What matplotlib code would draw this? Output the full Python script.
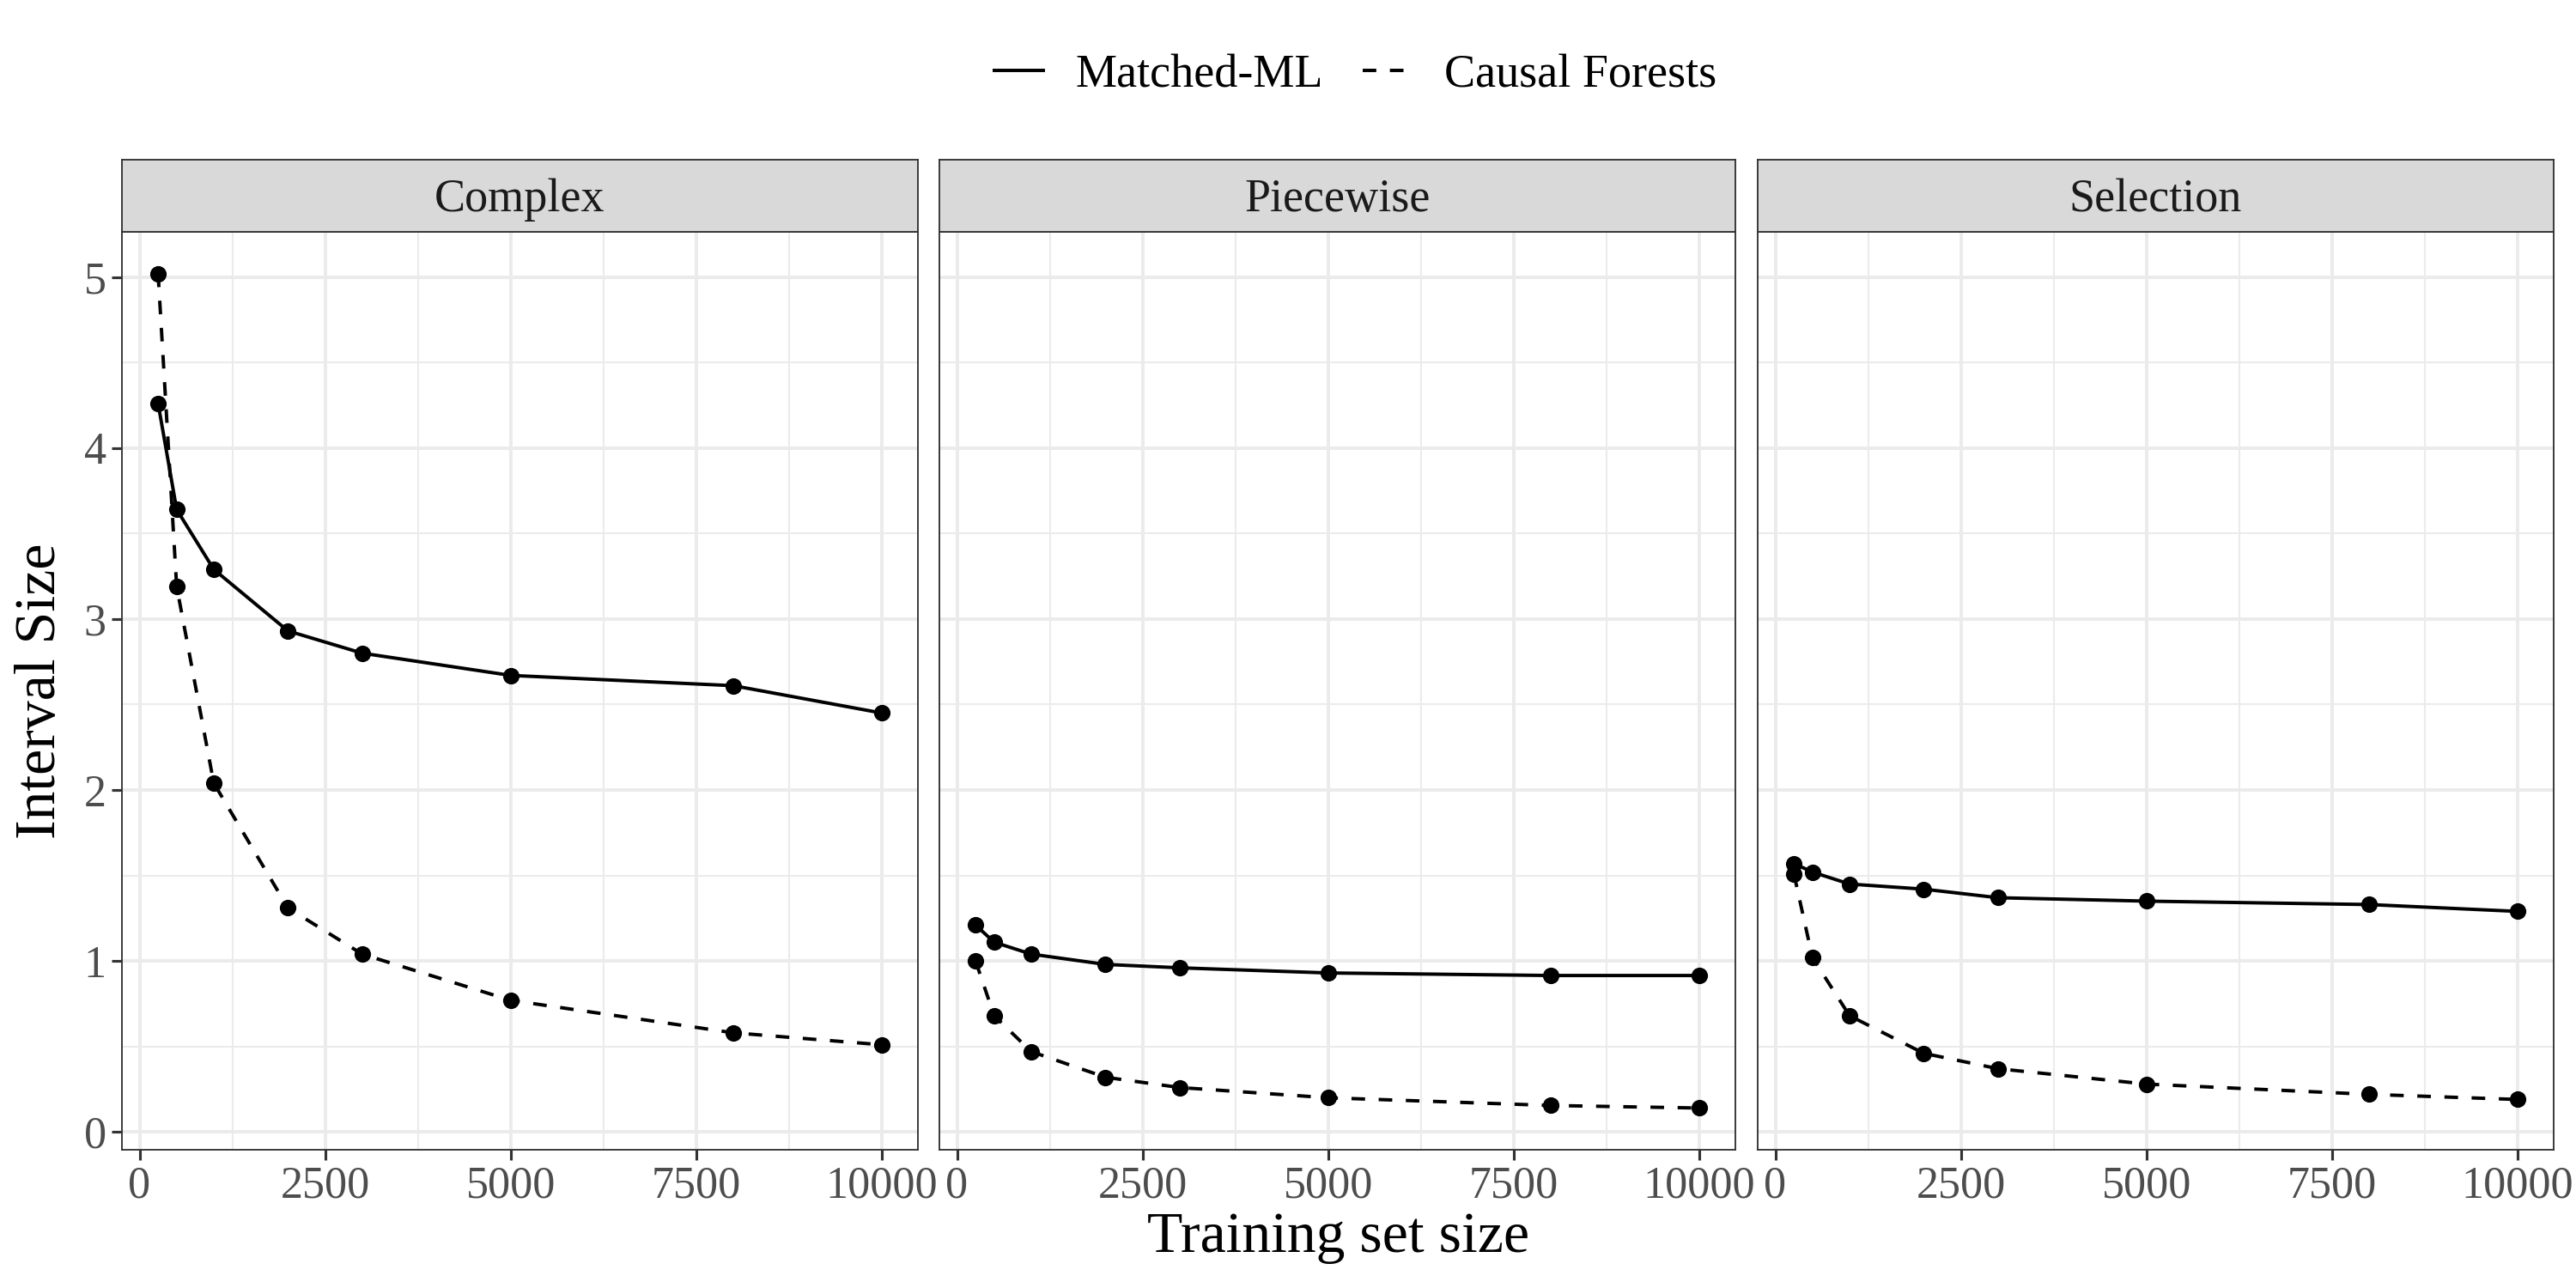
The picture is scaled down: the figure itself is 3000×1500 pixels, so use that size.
import numpy as np
import matplotlib
matplotlib.use("Agg")
import matplotlib.pyplot as plt
from matplotlib.lines import Line2D

plt.rcParams['font.family'] = ['Liberation Serif', 'DejaVu Serif']

# data
sizes = [250, 500, 1000, 2000, 3000, 5000, 8000, 10000]
panels = ["Complex", "Piecewise", "Selection"]

matched_complex = [4.26, 3.64, 3.29, 2.93, 2.80, 2.67, 2.61, 2.45]
forest_complex = [5.02, 3.19, 2.04, 1.31, 1.04, 0.77, 0.58, 0.51]

matched_piecewise = [1.21, 1.11, 1.04, 0.98, 0.96, 0.93, 0.915, 0.915]
forest_piecewise = [1.00, 0.68, 0.47, 0.32, 0.26, 0.20, 0.155, 0.14]

matched_selection = [1.57, 1.52, 1.45, 1.42, 1.37, 1.35, 1.33, 1.29]
forest_selection = [1.51, 1.02, 0.68, 0.46, 0.37, 0.28, 0.22, 0.19]

matched = [matched_complex, matched_piecewise, matched_selection]
forests = [forest_complex, forest_piecewise, forest_selection]

x_ticks = [0, 2500, 5000, 7500, 10000]
y_ticks = [0, 1, 2, 3, 4, 5]

fig = plt.figure(figsize=(20, 10), dpi=150)

lefts = [142 / 3000, 1094 / 3000, 2047 / 3000]
width = 927 / 3000
bottom = 1 - 1339 / 1500
height = (1339 - 270) / 1500
strip_h = 84 / 1500

# ggplot-style 5% expansion
all_y = np.concatenate([np.array(v) for v in matched + forests])
yr = all_y.max() - all_y.min()
ylim = (all_y.min() - 0.05 * yr, all_y.max() + 0.05 * yr)
xr = max(sizes) - min(sizes)
xlim = (min(sizes) - 0.05 * xr, max(sizes) + 0.05 * xr)

lw = 1.9
dash = (4.0, 4.0)
for i, name in enumerate(panels):
    ax = fig.add_axes([lefts[i], bottom, width, height])
    ax.set_xlim(xlim)
    ax.set_ylim(ylim)

    # grid lines
    for yv in np.arange(0.5, 5.5, 1.0):
        ax.axhline(yv, color='#EBEBEB', lw=1.0, zorder=0)
    for xv in [1250, 3750, 6250, 8750]:
        ax.axvline(xv, color='#EBEBEB', lw=1.0, zorder=0)
    for yv in y_ticks:
        ax.axhline(yv, color='#EBEBEB', lw=1.9, zorder=0)
    for xv in x_ticks:
        ax.axvline(xv, color='#EBEBEB', lw=1.9, zorder=0)

    ax.plot(sizes, matched[i], color='black', lw=lw, zorder=3)
    ax.plot(sizes, forests[i], color='black', lw=lw, dashes=dash, zorder=3)
    ax.scatter(sizes, matched[i], s=85, color='black', zorder=4, linewidths=0)
    ax.scatter(sizes, forests[i], s=85, color='black', zorder=4, linewidths=0)

    ax.set_xticks(x_ticks)
    ax.set_xticklabels([str(v) for v in x_ticks])
    ax.set_yticks(y_ticks)
    if i == 0:
        ax.set_yticklabels([str(v) for v in y_ticks])
    else:
        ax.tick_params(axis='y', left=False, labelleft=False)
    ax.tick_params(axis='both', colors='#333333', labelcolor='#4D4D4D',
                   labelsize=25, length=5.7, width=1.5, pad=3)
    for sp in ax.spines.values():
        sp.set_color('#333333')
        sp.set_linewidth(0.9)

    # facet strip
    sax = fig.add_axes([lefts[i], bottom + height, width, strip_h])
    sax.set_facecolor('#D9D9D9')
    sax.set_xticks([])
    sax.set_yticks([])
    for sp in sax.spines.values():
        sp.set_color('#333333')
        sp.set_linewidth(0.9)
    sax.text(0.5, 0.44, name, ha='center', va='center', fontsize=26,
             color='#1A1A1A', transform=sax.transAxes)

fig.text(48 / 3000, bottom + height / 2, "Interval Size", rotation=90,
         ha='center', va='center', fontsize=32.5)
fig.text((142 + 2975) / 2 / 3000, 1 - 1442 / 1500, "Training set size",
         ha='center', va='center', fontsize=32.5)

handles = [Line2D([], [], color='black', lw=lw),
           Line2D([], [], color='black', lw=lw, dashes=dash)]
fig.legend(handles, ["Matched-ML", "Causal Forests"], loc='center',
           bbox_to_anchor=(825 / 1568, 1 - 88 / 1500), ncol=2, frameon=False,
           fontsize=26, handlelength=1.05, columnspacing=0.85,
           handletextpad=0.7)

fig.savefig("out.png", dpi=150)
